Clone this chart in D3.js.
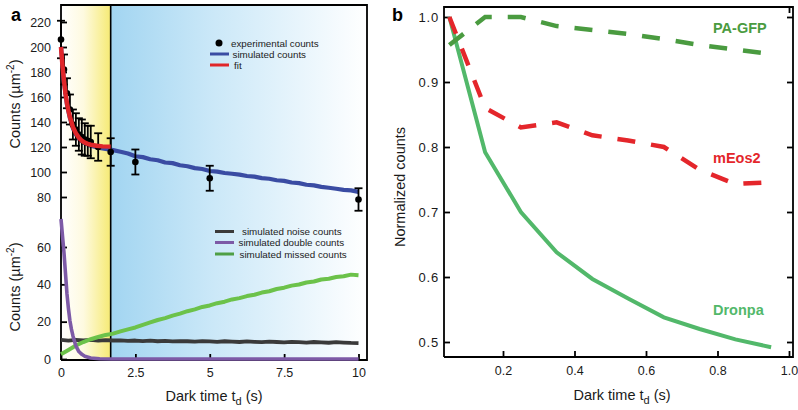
<!DOCTYPE html>
<html><head><meta charset="utf-8">
<script src="https://cdn.jsdelivr.net/npm/d3@7"></script>
<style>body{margin:0;background:#fff} svg{display:block;font-family:"Liberation Sans",Arial,Helvetica,sans-serif}</style>
</head><body><svg id="c" width="798" height="410"></svg>
<script>
// ---------- Panel a data ----------
const shadeEnd = 1.67;
const expT = [0,0.1,0.2,0.3,0.4,0.5,0.6,0.7,0.8,0.9,1.0,1.25,1.67,2.5,5,10];
const expV = [206,182,163,150,138,134,130,128,126,125,124,120,116,108,95,78];
const expE = [15,12,12,12,12,13,13,14,13,12,13,11,11,10,10,9];

const fitT = [0,0.05,0.1,0.15,0.2,0.25,0.3,0.4,0.5,0.6,0.7,0.8,0.9,1.0,1.2,1.4,1.67];
const fitV = [200,185,173,163,155,149,144,136,131,127.5,125,123.5,122.5,121.8,121,120.5,120.3];

const simT = [0,0.1,0.2,0.3,0.4,0.5,0.6,0.75,1.0,1.25,1.5,1.75,2.0,2.25,2.5,2.75,3.0,3.25,3.5,3.75,4.0,4.25,4.5,4.75,5.0,5.25,5.5,5.75,6.0,6.25,6.5,6.75,7.0,7.25,7.5,7.75,8.0,8.25,8.5,8.75,9.0,9.25,9.5,9.75,10.0];
const simV = [200,172,154,143,135,130,126.5,123.5,121,119.5,118.5,117.5,116.2,114.8,112.6,111.9,110.2,109.4,107.6,107.1,105.4,104.6,103.1,102.4,100.8,100.3,99.2,98.6,97.9,96.8,96.3,95.1,94.6,93.4,92.9,91.6,91.1,89.8,89.3,88.1,87.4,86.6,85.7,85.3,84.1];

const lowT = [0,0.25,0.5,0.75,1.0,1.25,1.5,1.75,2.0,2.25,2.5,2.75,3.0,3.25,3.5,3.75,4.0,4.25,4.5,4.75,5.0,5.25,5.5,5.75,6.0,6.25,6.5,6.75,7.0,7.25,7.5,7.75,8.0,8.25,8.5,8.75,9.0,9.25,9.5,9.75,10.0];
const noiseV = [10.2,9.9,10.3,10.0,10.2,9.8,10.1,9.9,10.0,9.7,9.9,9.6,9.8,9.5,9.7,9.4,9.6,9.5,9.3,9.6,9.4,9.2,9.5,9.3,9.1,9.4,9.2,9.0,9.3,9.1,8.9,9.2,9.0,8.8,9.1,8.9,8.7,9.0,8.8,8.6,8.5];
const missedV = [2.5,4.8,7.2,9.1,10.6,11.8,12.9,13.6,14.8,15.9,16.9,18.3,19.6,20.9,21.9,23.2,24.3,25.6,26.6,27.9,28.7,29.9,30.7,31.9,32.6,33.7,34.4,35.6,36.3,37.5,38.2,39.3,39.9,41.0,41.5,42.6,43.0,43.9,44.3,45.2,44.9];
const dblT = [0,0.05,0.1,0.15,0.2,0.25,0.3,0.35,0.4,0.5,0.6,0.7,0.8,1.0,1.3,1.7,10];
const dblV = [75,66,57,46,35,27,20.5,16,12.5,7,4,2.5,1.5,0.5,0.1,0,0];

const aTopTicks = [80,100,120,140,160,180,200,220];
const aBotTicks = [0,20,40,60];
const aXTicks = [0,2.5,5,7.5,10];

// ---------- Panel b data ----------
const bT = [0.05,0.15,0.25,0.35,0.45,0.55,0.65,0.75,0.85,0.95];
const paGFP = [0.957,1.0,1.0,0.986,0.98,0.974,0.966,0.957,0.95,0.943];
const mEos2 = [1.0,0.86,0.83,0.838,0.818,0.81,0.80,0.765,0.743,0.746];
const dronpa = [1.0,0.792,0.70,0.638,0.597,0.567,0.538,0.52,0.504,0.492];
const bXTicks = [0.2,0.4,0.6,0.8,1.0];
const bYTicks = [0.5,0.6,0.7,0.8,0.9,1.0];

const svg = d3.select("#c");
const defs = svg.append("defs");

// ---------- Panel a ----------
const aL=61, aR=367, aT=5, aB=360;
const xa = d3.scaleLinear().domain([0,10]).range([61,358.5]);
const yTop = d3.scaleLinear().domain([80,220]).range([197,22]);
const yBot = d3.scaleLinear().domain([0,60]).range([359,247]);

const gy = defs.append("linearGradient").attr("id","gy").attr("x1","0").attr("x2","1").attr("y1","0").attr("y2","0");
gy.append("stop").attr("offset","0").attr("stop-color","#ffffff");
gy.append("stop").attr("offset","0.45").attr("stop-color","#fefae0");
gy.append("stop").attr("offset","1").attr("stop-color","#f6ea74");
const gb = defs.append("linearGradient").attr("id","gb").attr("x1","0").attr("x2","1").attr("y1","0").attr("y2","0");
gb.append("stop").attr("offset","0").attr("stop-color","#a2d5f1");
gb.append("stop").attr("offset","0.4").attr("stop-color","#cbe8f8");
gb.append("stop").attr("offset","1").attr("stop-color","#ffffff");

svg.append("rect").attr("x",aL).attr("y",aT).attr("width",xa(shadeEnd)-aL).attr("height",aB-aT).attr("fill","url(#gy)");
svg.append("rect").attr("x",xa(shadeEnd)).attr("y",aT).attr("width",aR-xa(shadeEnd)).attr("height",aB-aT).attr("fill","url(#gb)");
svg.append("line").attr("x1",xa(shadeEnd)).attr("x2",xa(shadeEnd)).attr("y1",aT).attr("y2",aB).attr("stroke","#000").attr("stroke-width",1.6);

// frame a
svg.append("path").attr("d",`M${aL},${aB}V${aT}H${aR}V${aB}H${aL}`).attr("fill","none").attr("stroke","#000").attr("stroke-width",1.8);

function styleAxis(g){
  g.select(".domain").remove();
  g.selectAll(".tick line").attr("stroke","#000").attr("stroke-width",1.8);
  g.selectAll(".tick text").attr("fill","#1a1a1a").style("font-size","12.5px").attr("font-family",'"Liberation Sans",Arial,sans-serif');
}
svg.append("g").attr("transform",`translate(${aL},0)`).call(d3.axisLeft(yTop).tickValues(aTopTicks).tickSize(-6).tickPadding(10)).call(styleAxis);
svg.append("g").attr("transform",`translate(${aL},0)`).call(d3.axisLeft(yBot).tickValues(aBotTicks).tickSize(-6).tickPadding(10)).call(styleAxis);
svg.append("g").attr("transform",`translate(0,${aB})`).call(d3.axisBottom(xa).tickValues(aXTicks).tickFormat(d=>d).tickSize(-6).tickPadding(8)).call(styleAxis);

const lineTop = (T,V)=>d3.line().x((d,i)=>xa(T[i])).y(d=>yTop(d))(V);
const lineBot = (T,V)=>d3.line().x((d,i)=>xa(T[i])).y(d=>yBot(d))(V);

svg.append("path").attr("d",lineBot(lowT,noiseV)).attr("fill","none").attr("stroke","#3a3a3a").attr("stroke-width",3.8).attr("stroke-linejoin","round");
svg.append("path").attr("d",lineBot(lowT,missedV)).attr("fill","none").attr("stroke","#6cc24a").attr("stroke-width",4).attr("stroke-linejoin","round");
svg.append("path").attr("d",lineBot(dblT,dblV)).attr("fill","none").attr("stroke","#7d5aa6").attr("stroke-width",3.6).attr("stroke-linejoin","round");

svg.append("path").attr("d",lineTop(simT,simV)).attr("fill","none").attr("stroke","#3a4ca3").attr("stroke-width",4.2).attr("stroke-linejoin","round");

// experimental points with error bars
const eg = svg.append("g");
expT.forEach((t,i)=>{
  const x=xa(t), y1=yTop(expV[i]+expE[i]), y2=yTop(expV[i]-expE[i]);
  eg.append("line").attr("x1",x).attr("x2",x).attr("y1",y1).attr("y2",y2).attr("stroke","#000").attr("stroke-width",1.8);
  eg.append("line").attr("x1",x-4).attr("x2",x+4).attr("y1",y1).attr("y2",y1).attr("stroke","#000").attr("stroke-width",1.8);
  eg.append("line").attr("x1",x-4).attr("x2",x+4).attr("y1",y2).attr("y2",y2).attr("stroke","#000").attr("stroke-width",1.8);
  eg.append("circle").attr("cx",x).attr("cy",yTop(expV[i])).attr("r",3.3).attr("fill","#000");
});

svg.append("path").attr("d",lineTop(fitT,fitV)).attr("fill","none").attr("stroke","#e0262a").attr("stroke-width",4.5).attr("stroke-linejoin","round");

// legends a
const lg = svg.append("g").style("font-size","9.8px").attr("fill","#222");
lg.append("circle").attr("cx",219).attr("cy",43).attr("r",3.5).attr("fill","#000");
lg.append("text").attr("x",231).attr("y",46.5).text("experimental counts");
lg.append("line").attr("x1",210).attr("x2",229).attr("y1",54).attr("y2",54).attr("stroke","#3a4ca3").attr("stroke-width",3);
lg.append("text").attr("x",232.5).attr("y",57.5).text("simulated counts");
lg.append("line").attr("x1",210).attr("x2",229).attr("y1",65).attr("y2",65).attr("stroke","#e0262a").attr("stroke-width",3);
lg.append("text").attr("x",234).attr("y",68.5).text("fit");

lg.append("line").attr("x1",215).attr("x2",234).attr("y1",231.5).attr("y2",231.5).attr("stroke","#3a3a3a").attr("stroke-width",3);
lg.append("text").attr("x",242).attr("y",235).text("simulated noise counts");
lg.append("line").attr("x1",215).attr("x2",234).attr("y1",242.5).attr("y2",242.5).attr("stroke","#7d5aa6").attr("stroke-width",3);
lg.append("text").attr("x",238.5).attr("y",246).text("simulated double counts");
lg.append("line").attr("x1",215).attr("x2",234).attr("y1",254).attr("y2",254).attr("stroke","#4f9f45").attr("stroke-width",3);
lg.append("text").attr("x",239.5).attr("y",257.5).text("simulated missed counts");

// axis titles a
function countsTitle(cx,cy){
  const t = svg.append("text").attr("transform",`translate(${cx},${cy}) rotate(-90)`).attr("text-anchor","middle").style("font-size","14.5px").attr("fill","#1a1a1a");
  t.append("tspan").text("Counts (µm");
  t.append("tspan").attr("dy",-6).style("font-size","10px").text("-2");
  t.append("tspan").attr("dy",6).text(")");
}
countsTitle(20,104);
countsTitle(20,287);

function darkTitle(cx,cy){
  const t = svg.append("text").attr("x",cx).attr("y",cy).attr("text-anchor","middle").style("font-size","14.5px").attr("fill","#1a1a1a");
  t.append("tspan").text("Dark time t");
  t.append("tspan").attr("dy",4).style("font-size","11px").text("d");
  t.append("tspan").attr("dy",-4).text(" (s)");
}
darkTitle(214,401);

svg.append("text").attr("x",11).attr("y",21).style("font-size","18px").style("font-weight","bold").text("a");

// ---------- Panel b ----------
const bL=444, bR=793, bTp=7, bBt=357;
const xb = d3.scaleLinear().domain([0.2,1.0]).range([503,789]);
const yb = d3.scaleLinear().domain([0.5,1.0]).range([342,17]);

svg.append("path").attr("d",`M${bL},${bBt}V${bTp}H${bR}V${bBt}H${bL}`).attr("fill","none").attr("stroke","#000").attr("stroke-width",1.8);
svg.append("g").attr("transform",`translate(${bL},0)`).call(d3.axisLeft(yb).tickValues(bYTicks).tickFormat(d3.format(".1f")).tickSize(-6).tickPadding(5)).call(styleAxis)
  .selectAll(".tick text").style("font-size","13px").style("letter-spacing","0.8px");
svg.append("g").attr("transform",`translate(${bR},0)`).call(d3.axisRight(yb).tickValues(bYTicks).tickFormat("").tickSize(-6)).call(styleAxis);
svg.append("g").attr("transform",`translate(0,${bBt})`).call(d3.axisBottom(xb).tickValues(bXTicks).tickFormat(d3.format(".1f")).tickSize(-6).tickPadding(9)).call(styleAxis);
svg.append("g").attr("transform",`translate(0,${bTp})`).call(d3.axisTop(xb).tickValues([1.0]).tickFormat("").tickSize(-6)).call(styleAxis);

const lineB = V=>d3.line().x((d,i)=>xb(bT[i])).y(d=>yb(d))(V);
svg.append("path").attr("d",lineB(dronpa)).attr("fill","none").attr("stroke","#52b86a").attr("stroke-width",4);
svg.append("path").attr("d",lineB(mEos2)).attr("fill","none").attr("stroke","#e4262b").attr("stroke-width",4.5).attr("stroke-dasharray","18,16");
svg.append("path").attr("d",lineB(paGFP)).attr("fill","none").attr("stroke","#4a9b40").attr("stroke-width",4.5).attr("stroke-dasharray","18,16");

const lb = svg.append("g").style("font-size","14.5px").style("font-weight","bold");
lb.append("text").attr("x",713).attr("y",33).attr("fill","#4a9b40").text("PA-GFP");
lb.append("text").attr("x",713).attr("y",163).attr("fill","#e4262b").text("mEos2");
lb.append("text").attr("x",713).attr("y",315).attr("fill","#52b86a").text("Dronpa");

svg.append("text").attr("transform","translate(405,187) rotate(-90)").attr("text-anchor","middle").style("font-size","14.5px").attr("fill","#1a1a1a").text("Normalized counts");
darkTitle(622,400);
svg.append("text").attr("x",392).attr("y",21).style("font-size","18px").style("font-weight","bold").text("b");
</script></body></html>
